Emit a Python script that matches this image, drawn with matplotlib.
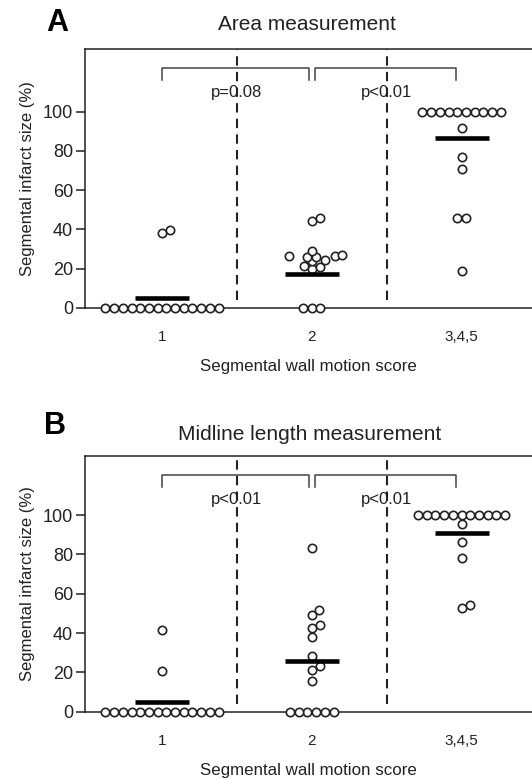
import numpy as np
import matplotlib
matplotlib.use("Agg")
import matplotlib.pyplot as plt

plt.rcParams['font.family'] = ['Liberation Sans', 'DejaVu Sans']

# categories (segmental wall motion score)
categories = ["1", "2", "3,4,5"]

# panel A: area measurement (%)
area_g1 = [0] * 14 + [38, 39.5]
area_g2 = [0, 0, 0, 19.5, 21, 21.5, 24, 24.5, 26, 26, 26.5, 26.5, 27, 29, 44, 46]
area_g3 = [100] * 10 + [91.5, 77, 71, 46, 46, 18.5]
area_means = [5.1, 17.2, 86.4]
area_p = ["p=0.08", "p<0.01"]

# panel B: midline length measurement (%)
mid_g1 = [0] * 14 + [20.7, 41.5]
mid_g2 = [0] * 6 + [15.6, 21.2, 23, 28.3, 37.8, 42.4, 44.1, 49.2, 51.7, 83]
mid_g3 = [100] * 11 + [95.4, 86.4, 78, 54.2, 52.6]
mid_means = [5.1, 25.9, 91.0]
mid_p = ["p<0.01", "p<0.01"]

DARK = "#222222"


def swarm_x(ax, xc, values, diam_px=8.7):
    # simple beeswarm: place points in pixel space, nearest free slot to centre
    vals = np.asarray(values, dtype=float)
    pts = ax.transData.transform(np.column_stack([np.full(len(vals), xc), vals]))
    ys = pts[:, 1]
    px_per_x = ax.transData.transform([[1, 0]])[0, 0] - ax.transData.transform([[0, 0]])[0, 0]
    offs = np.zeros(len(vals))
    placed = []
    for i in np.argsort(ys, kind="stable"):
        y = ys[i]
        cands = [0.0]
        for (px, py) in placed:
            dy = y - py
            if abs(dy) < diam_px:
                dx = np.sqrt(diam_px ** 2 - dy ** 2)
                cands += [px + dx, px - dx]
        cands.sort(key=abs)
        for c in cands:
            if all((c - px) ** 2 + (y - py) ** 2 >= diam_px ** 2 - 1e-6 for px, py in placed):
                offs[i] = c
                break
        placed.append((offs[i], y))
    # centre rows of identical values
    for v in np.unique(vals):
        idx = np.where(vals == v)[0]
        if len(idx) > 1:
            offs[idx] -= offs[idx].mean()
    return xc + offs / px_per_x


def draw_panel(ax, groups, means, pvals, ytop):
    ax.set_xlim(0.486, 3.47)
    ax.set_ylim(0, ytop)
    ax.spines["right"].set_visible(False)
    for s in ax.spines.values():
        s.set_linewidth(1.1)
        s.set_color(DARK)

    # dashed separators
    ax.vlines([1.5, 2.5], 4, ytop, colors=DARK, linestyles=(0, (4.5, 3)), linewidth=1.5)

    for k, vals in enumerate(groups):
        xs = swarm_x(ax, k + 1, vals)
        ax.plot(xs, vals, "o", ms=6.0, mew=1.2, mfc="white", mec=DARK,
                clip_on=False, zorder=4)
        ax.hlines(means[k], k + 1 - 0.18, k + 1 + 0.18, colors="black",
                  linewidth=3.3, zorder=5)

    # brackets with p values
    for (x0, x1), p, xm in zip([(1.0, 1.98), (2.02, 2.96)], pvals, [1.5, 2.5]):
        ax.plot([x0, x0, x1, x1], [ytop - 16, ytop - 9.5, ytop - 9.5, ytop - 16],
                color="#444444", linewidth=1.1)
        ax.text(xm, ytop - 22, p, ha="center", va="center", fontsize=12, color=DARK)

    ax.set_yticks([0, 20, 40, 60, 80, 100])
    ax.set_xticks([1, 2, 3])
    ax.set_xticklabels(categories)
    ax.tick_params(axis="y", direction="out", length=6.5, width=1.1, labelsize=13,
                   colors=DARK, pad=2)
    ax.tick_params(axis="x", length=0, labelsize=11, colors=DARK, pad=16)
    ax.set_ylabel("Segmental infarct size (%)", fontsize=12, color=DARK, labelpad=6)
    ax.set_xlabel("Segmental wall motion score", fontsize=12.2, color=DARK, labelpad=11)


fig = plt.figure(figsize=(5.32, 7.79), dpi=100)

ax1 = fig.add_axes([85 / 532, 1 - 307.7 / 779, 447 / 532, 258.7 / 779])
draw_panel(ax1, [area_g1, area_g2, area_g3], area_means, area_p, 132)

ax2 = fig.add_axes([85 / 532, 1 - 711.7 / 779, 447 / 532, 255.7 / 779])
draw_panel(ax2, [mid_g1, mid_g2, mid_g3], mid_means, mid_p, 130)

fig.text(57 / 532, 1 - 23 / 779, "A", fontsize=22, fontweight="bold", ha="center", va="center")
fig.text(307 / 532, 1 - 25 / 779, "Area measurement", fontsize=15, ha="center", va="center", color=DARK)
fig.text(55 / 532, 1 - 426 / 779, "B", fontsize=22, fontweight="bold", ha="center", va="center")
fig.text(310 / 532, 1 - 435 / 779, "Midline length measurement", fontsize=15, ha="center", va="center", color=DARK)

fig.savefig("out.png", dpi=100)
